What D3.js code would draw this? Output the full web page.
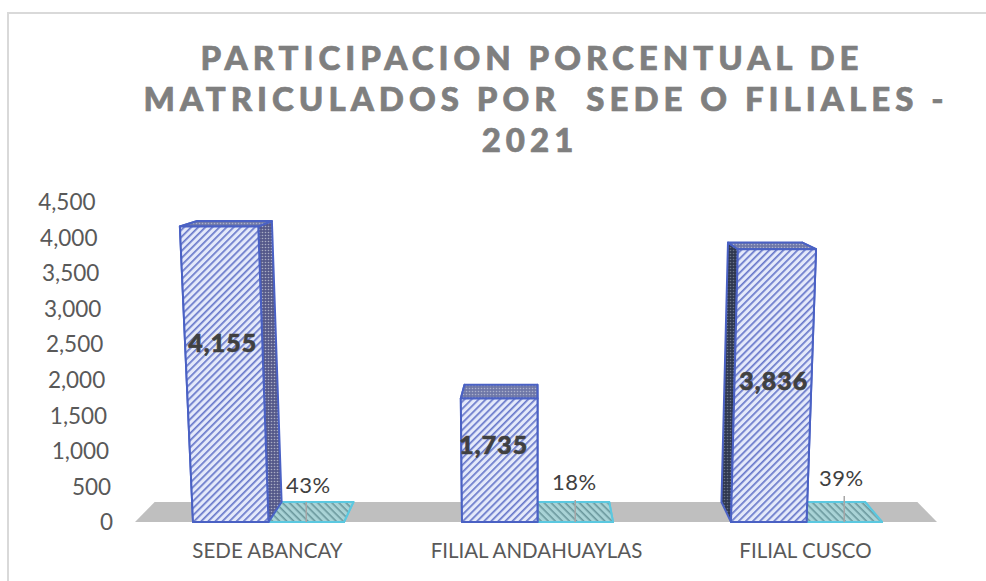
<!DOCTYPE html>
<html>
<head>
	<meta charset="utf-8">
	<title>Participacion porcentual</title>
	<style>
		html, body {
			margin: 0;
			padding: 0;
			background: white;
		}
		svg {
			display: block;
			font-family: 'Lato';
		}
	</style>
</head>
<body>
	<svg width="986" height="581"></svg>
	<script src="https://d3js.org/d3.v7.min.js"></script>
	<script>

		// values
		let categories = ['SEDE ABANCAY', 'FILIAL ANDAHUAYLAS', 'FILIAL CUSCO']
		let matriculados = [4155, 1735, 3836]
		let porcentaje = [0.43, 0.18, 0.39]
		let yTicks = [0, 500, 1000, 1500, 2000, 2500, 3000, 3500, 4000, 4500]
		let titleLines = ['PARTICIPACION PORCENTUAL DE', 'MATRICULADOS POR  SEDE O FILIALES -', '2021']

		let svg = d3.select('svg')
		let defs = svg.append('defs')

		// wide upward diagonal for the front of the bars
		let hatch = (id, bg, fg, w, angle) => {
			let p = defs.append('pattern')
				.attr('id', id)
				.attr('patternUnits', 'userSpaceOnUse')
				.attr('width', 5)
				.attr('height', 5)
				.attr('patternTransform', `rotate(${angle})`)
			p.append('rect').attr('width', 5).attr('height', 5).attr('fill', bg)
			p.append('rect').attr('width', 5).attr('height', w).attr('fill', fg)
		}
		hatch('front', '#e4e9fa', '#6878ca', 1.7, -45)
		hatch('floorbar', '#a9d3d6', '#6a979c', 1.6, 45)

		// dark mesh for the sides and the top
		let mesh = (id, bg, fg) => {
			let p = defs.append('pattern')
				.attr('id', id)
				.attr('patternUnits', 'userSpaceOnUse')
				.attr('width', 3)
				.attr('height', 3)
			p.append('rect').attr('width', 3).attr('height', 3).attr('fill', bg)
			p.append('circle').attr('cx', 1.5).attr('cy', 1.5).attr('r', 0.8).attr('fill', fg)
		}
		mesh('side', '#55598a', '#a9adc4')
		mesh('sideDark', '#2f3850', '#6a7488')
		mesh('top', '#6f78a8', '#aab0cc')

		let x = d3.scaleBand()
			.domain(categories)
			.range([134, 941])

		let inner = d3.scaleBand()
			.domain(['matriculados', 'porcentaje'])
			.range([-75.5, 75.5])

		let y = d3.scaleLinear()
			.domain([0, 4500])
			.range([522, 202])

		// the 3D look: back wall is a bit smaller, and things lean away from the middle as they go up
		let centerX = 536
		let vanishY = 114
		let backScale = 0.951
		let lean = 9.2e-6

		let project = (px, value, back) => {
			let s = back ? backScale : 1
			return [
				centerX + (px - centerX) * (1 + value * lean) * s,
				vanishY + (y(value) - vanishY) * s
			]
		}

		let line = d3.line()

		let box = (g, x0, x1, value, sideFill, topFill, frontFill, stroke, width) => {
			let f = (px, v) => project(px, v, false)
			let b = (px, v) => project(px, v, true)

			let faces = [
				[[f(x0, 0), f(x0, value), b(x0, value), b(x0, 0)], sideFill],
				[[f(x1, 0), f(x1, value), b(x1, value), b(x1, 0)], sideFill],
				[[f(x0, value), f(x1, value), b(x1, value), b(x0, value)], topFill],
				[[f(x0, 0), f(x1, 0), f(x1, value), f(x0, value)], frontFill]
			]

			g.selectAll('path')
				.data(faces)
				.join('path')
				.attr('d', d => line(d[0]) + 'Z')
				.attr('fill', d => d[1])
				.attr('stroke', stroke)
				.attr('stroke-width', width)
				.attr('stroke-linejoin', 'round')
		}

		// chart frame, only top and left show
		svg.append('path')
			.attr('d', 'M986,13H8V581')
			.attr('fill', 'none')
			.attr('stroke', '#d9d9d9')
			.attr('stroke-width', 2)

		// title
		svg.append('g')
			.selectAll('text')
			.data(titleLines)
			.join('text')
			.attr('x', (d, i) => [532, 546, 530][i])
			.attr('y', (d, i) => 69.5 + i * 41)
			.attr('text-anchor', 'middle')
			.style('font-size', '33px')
			.style('font-weight', 900)
			.style('letter-spacing', '5px')
			.style('white-space', 'pre')
			.attr('fill', '#7f7f7f')
			.attr('stroke', '#7f7f7f')
			.attr('stroke-width', 0.7)
			.text(d => d)

		// grey floor
		let floorLeft = 135
		let floorRight = 937
		svg.append('path')
			.attr('d', line([
				project(floorLeft, 0, false),
				project(floorRight, 0, false),
				project(floorRight, 0, true),
				project(floorLeft, 0, true)
			]) + 'Z')
			.attr('fill', '#bfbfbf')

		// flat percentage bars
		categories.forEach((c, i) => {
			let center = x(c) + x.bandwidth() / 2
			let x0 = center + inner('porcentaje')
			let x1 = x0 + inner.bandwidth()
			let g = svg.append('g')
			box(g, x0, x1, porcentaje[i], '#a9d3d6', 'url(#floorbar)', 'url(#floorbar)', '#5bc8e0', 2)
			// leader line
			let mid = (x0 + x1) / 2
			svg.append('line')
				.attr('x1', mid)
				.attr('x2', mid)
				.attr('y1', y(0))
				.attr('y2', y(0) - [20, 22, 26][i])
				.attr('stroke', '#a6a6a6')
				.attr('stroke-width', 1.5)
		})

		// main bars
		categories.forEach((c, i) => {
			let center = x(c) + x.bandwidth() / 2
			let x0 = center + inner('matriculados')
			let x1 = x0 + inner.bandwidth()
			let g = svg.append('g')
			let sideFill = i == 2 ? 'url(#sideDark)' : 'url(#side)'
			box(g, x0, x1, matriculados[i], sideFill, 'url(#top)', 'url(#front)', '#4a61c4', 2)
		})

		// bar labels
		let fmt = d3.format(',')
		svg.append('g')
			.selectAll('text')
			.data(categories)
			.join('text')
			.attr('x', (c, i) => x(c) + x.bandwidth() / 2 + inner('matriculados') + inner.bandwidth() / 2 + [-8, -6, 5][i])
			.attr('y', (c, i) => y(matriculados[i] / 2) + [-29, -13, -2][i])
			.attr('text-anchor', 'middle')
			.attr('dominant-baseline', 'middle')
			.style('font-size', '25px')
			.style('font-weight', 900)
			.style('letter-spacing', '1px')
			.attr('fill', '#404040')
			.attr('stroke', '#404040')
			.attr('stroke-width', 0.6)
			.text((c, i) => fmt(matriculados[i]))

		svg.append('g')
			.selectAll('text')
			.data(categories)
			.join('text')
			.attr('x', (c, i) => x(c) + x.bandwidth() / 2 + inner('porcentaje') + inner.bandwidth() / 2 + [2, -1, -3][i])
			.attr('y', (c, i) => [487, 484, 480][i])
			.attr('text-anchor', 'middle')
			.attr('dominant-baseline', 'middle')
			.style('font-size', '22px')
			.style('letter-spacing', '0.5px')
			.attr('fill', '#404040')
			.text((c, i) => d3.format('.0%')(porcentaje[i]))

		// axes, no lines, only the labels
		let yAxis = d3.axisLeft(y)
			.tickValues(yTicks)
			.tickSize(0)
			.tickPadding(0)
			.tickFormat(fmt)

		let yG = svg.append('g')
			.call(yAxis)
		yG.select('.domain').remove()
		// the labels follow the lean of the chart
		yG.selectAll('.tick')
			.attr('transform', d => `translate(${project(113, d, false)[0]},${y(d) + 1})`)
		yG.selectAll('text')
			.style('font-family', 'Lato')
			.style('font-size', '22.5px')
			.attr('fill', '#595959')

		let xAxis = d3.axisBottom(x)
			.tickSize(0)

		let xG = svg.append('g')
			.attr('transform', 'translate(-1,540)')
			.call(xAxis)
		xG.select('.domain').remove()
		xG.selectAll('text')
			.style('font-family', 'Lato')
			.style('font-size', '20.5px')
			.attr('fill', '#595959')

	</script>
</body>
</html>
